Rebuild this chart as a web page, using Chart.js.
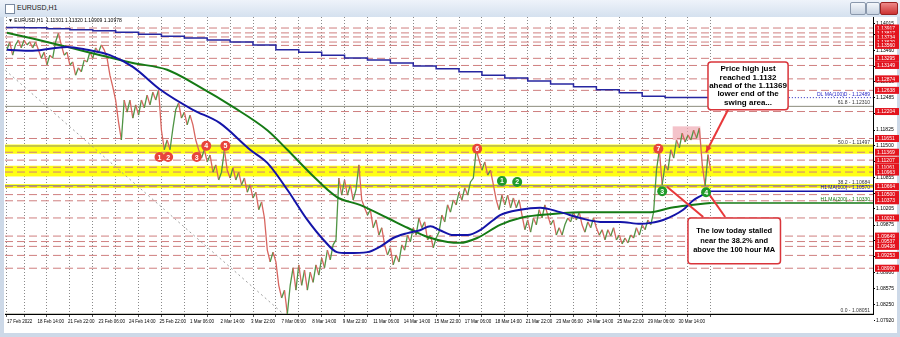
<!DOCTYPE html>
<html><head><meta charset="utf-8">
<script src="https://cdn.jsdelivr.net/npm/chart.js@4.4.0/dist/chart.umd.min.js"></script>
<style>
html,body{margin:0;padding:0;background:#fff;}
#wrap{position:relative;width:900px;height:337px;background:#cdd9e8;overflow:hidden;font-family:"Liberation Sans",Arial,sans-serif;}
#title{position:absolute;left:0;top:0;width:900px;height:17px;background:linear-gradient(#eef3fa,#d5e1ef);}
#icon{position:absolute;left:5px;top:4px;width:8px;height:8px;border:1px solid #7a8aa0;background:#fff;}
#ttext{position:absolute;left:17px;top:4px;font-size:7px;color:#1a1a1a;}
.btn{position:absolute;top:2px;height:11px;border:1px solid #8a98ac;border-radius:2px;background:linear-gradient(#f4f7fb,#c9d4e2);}
#cv{position:absolute;left:0;top:0;}
</style></head>
<body><div id="wrap">
<div id="title"><div id="icon"></div><div id="ttext">EURUSD,H1</div>
<div class="btn" style="left:850px;width:14px"></div>
<div class="btn" style="left:866px;width:12px"></div>
<div class="btn" style="left:880px;width:16px;background:linear-gradient(#e88,#c33);border-color:#922"></div>
</div>
<canvas id="cv" width="900" height="337"></canvas>
</div>
<script>
// ---------------- DATA ----------------
const xLabelBars = [0,32,64,96,128,160,192,224,256,288,320,352,384,416,448,480,512,544,576,608,640,672,704];
const xLabels = ['17 Feb 2022','18 Feb 14:00','21 Feb 22:00','23 Feb 06:00','24 Feb 14:00','25 Feb 22:00','1 Mar 06:00','2 Mar 14:00','3 Mar 22:00','7 Mar 06:00','8 Mar 14:00','9 Mar 22:00','11 Mar 06:00','14 Mar 14:00','15 Mar 22:00','17 Mar 06:00','18 Mar 14:00','21 Mar 22:00','23 Mar 06:00','24 Mar 14:00','25 Mar 22:00','29 Mar 06:00','30 Mar 14:00'];
const dayGridBars = [0,18,42,66,90,114,138,162,186,210,234,258,282,306,330,354,378,402,426,450,474,498,522,546,570,594,618,642,666,690,714,738];
const yTickVals = [1.14015,1.13785,1.13460,1.13135,1.12810,1.12485,1.12155,1.11825,1.11500,1.11180,1.10855,1.10530,1.10205,1.09875,1.09550,1.09225,1.08900,1.08575,1.08250,1.07920];

// EURUSD H1 price path, one reading every 3 bars
const priceBarStep = 3;
const pricePath = [
1.1347,1.1363,1.1336,1.1357,1.1367,1.1351,1.1367,1.1357,1.1363,1.1351,
1.1363,1.1347,1.1330,1.1342,1.1316,1.1336,1.1330,1.1363,1.1381,1.1357,
1.1336,1.1342,1.1316,1.1322,1.1295,1.1310,1.1302,1.1326,1.1322,1.1342,
1.1330,1.1351,1.1342,1.1357,1.1347,1.1330,1.1295,1.1271,1.1244,1.1199,
1.1162,1.1244,1.1219,1.1244,1.1207,1.1234,1.1213,1.1244,1.1228,1.1254,
1.1234,1.1260,1.1244,1.1265,1.1182,1.1142,1.1162,1.1142,1.1186,1.1224,
1.1238,1.1207,1.1219,1.1193,1.1213,1.1193,1.1162,1.1142,1.1125,1.1142,
1.1117,1.1131,1.1096,1.1111,1.1080,1.1096,1.1142,1.1100,1.1084,1.1105,
1.1080,1.1096,1.1070,1.1084,1.1055,1.1070,1.1043,1.1055,1.1019,1.1035,
1.1002,1.0936,1.0912,1.0932,1.0912,1.0864,1.0838,1.0854,1.0805,1.0864,
1.0900,1.0854,1.0906,1.0864,1.0895,1.0854,1.0891,1.0870,1.0906,1.0885,
1.0920,1.0900,1.0936,1.0916,1.0947,1.0957,1.1084,1.1049,1.1080,1.1049,
1.1070,1.1039,1.1060,1.1111,1.1039,1.1023,1.1008,1.1019,1.0982,1.0998,
1.0967,1.0982,1.0947,1.0926,1.0941,1.0906,1.0926,1.0912,1.0947,1.0936,
1.0967,1.0953,1.0982,1.0967,1.1002,1.0982,1.0994,1.0957,1.0967,1.0941,
1.0961,1.0973,1.1008,1.0994,1.1029,1.1014,1.1039,1.1029,1.1055,1.1039,
1.1064,1.1049,1.1076,1.1084,1.1142,1.1121,1.1100,1.1117,1.1090,1.1100,
1.1070,1.1039,1.1019,1.1049,1.1029,1.1049,1.1023,1.1043,1.1023,1.1039,
1.1008,1.0978,1.0998,1.0973,1.1002,1.0988,1.1019,1.1002,1.1029,1.1008,
1.0988,1.0998,1.0967,1.0982,1.0967,1.0988,1.1002,1.0994,1.1014,1.0998,
1.1014,1.0988,1.0973,1.0994,1.0982,1.1002,1.0982,1.0967,1.0978,1.0957,
1.0978,1.0965,1.0982,1.0957,1.0967,1.0949,1.0961,1.0951,1.0967,1.0961,
1.0982,1.0967,1.0988,1.0978,1.0998,1.0988,1.1014,1.1100,1.1142,1.1070,
1.1111,1.1100,1.1142,1.1125,1.1162,1.1146,1.1176,1.1158,1.1172,1.1162,
1.1182,1.1166,1.1186,1.1111,1.1068,1.1132,1.1098];

// 100-hour MA (blue)
const ma100Bars = [0,27,63,84,108,132,161,195,223,255,273,294,315,332,346,357,378,391,405,420,433,444,454,468,483,496,510,517,538,559,580,601,622,643,664,675,688,709,720,738];
const ma100Vals = [1.1347,1.1345,1.1353,1.1347,1.1336,1.1312,1.1265,1.1224,1.1197,1.1142,1.1115,1.1060,1.0998,1.0957,1.0932,1.0930,1.0932,1.0943,1.0961,1.0971,1.0977,1.0985,1.0977,1.0967,1.0967,1.0977,1.0998,1.1008,1.1019,1.1023,1.1014,1.1002,1.0994,1.0994,1.0990,1.0992,1.0998,1.1019,1.1039,1.1057];
// 200-hour MA (green)
const ma200Bars = [0,27,63,98,132,168,202,237,273,294,318,346,370,399,420,441,462,475,493,517,538,559,601,643,675,696,720,738];
const ma200Vals = [1.1382,1.1370,1.1353,1.1336,1.1320,1.1306,1.1271,1.1230,1.1182,1.1142,1.1094,1.1045,1.1029,1.1002,1.0982,1.0963,1.0953,1.0951,1.0961,1.0988,1.1002,1.1008,1.1014,1.1014,1.1014,1.1023,1.1029,1.1033];
// 100-day MA (daily, stepped)
const dailyMaBars = [0,18,42,66,90,114,138,162,186,210,234,258,282,306,330,354,378,402,426,450,474,498,522,546,570,594,618,642,666,690,714,738];
const dailyMaVals = [1.1394,1.1393,1.1392,1.1390,1.1388,1.1386,1.1383,1.1379,1.1375,1.1371,1.1367,1.1363,1.1357,1.1347,1.1342,1.1336,1.1330,1.1326,1.1320,1.1314,1.1308,1.1302,1.1295,1.1289,1.1283,1.1277,1.1271,1.1265,1.1259,1.1252,1.1249,1.1249];
const dailyMaLast = 1.12489;

// Horizontal support / resistance lines
const levelPrices = [1.13917,1.13817,1.13734,1.13629,1.13560,1.13295,1.13149,1.12874,1.12638,1.12204,1.11651,1.11369,1.11207,1.11061,1.10963,1.10664,1.10500,1.10373,1.10021,1.09649,1.09537,1.09438,1.09253,1.08990];
// Fibonacci retracement
const fibLow = 1.08051, fibHigh = 1.14943;
const fibLowBar = 290, fibHighBar = -112;
const fibRatios = [0.0, 0.382, 0.5, 0.618];
// Yellow swing areas [low, high]
const bandLows  = [1.11369, 1.10903, 1.10664];
const bandHighs = [1.11497, 1.11061, 1.10684];
// numbered markers
const markerBars   = [160,169,199,209,229,493,683,519,535,687,733];
const markerPrices = [1.1127,1.1127,1.1127,1.1150,1.1150,1.1144,1.1144,1.1078,1.1076,1.1057,1.1055];
const markerText   = ['1','2','3','4','5','6','7','1','2','3','4'];
const markerIsRed  = [1,1,1,1,1,1,1,0,0,0,0];

// ---------------- CHART ----------------
const X_MIN = -2, X_MAX = 908, Y_MIN = 1.08051, Y_MAX = 1.14143;
const labelMap = new Map(xLabelBars.map((b,i)=>[b,xLabels[i]]));
const gridSet = new Set(dayGridBars);
const xTickBars = Array.from(new Set([...xLabelBars, ...dayGridBars])).sort((a,b)=>a-b);
const lastBar = (pricePath.length-1)*priceBarStep;

const UP = '#4f9444', DOWN = '#d8655f';
const datasets = [];
datasets.push({label:'MA100', data: ma100Bars.map((b,i)=>({x:b,y:ma100Vals[i]})), borderColor:'#1414a8', borderWidth:2, pointRadius:0, tension:0.4, cubicInterpolationMode:'monotone', order:1});
datasets.push({label:'MA200', data: ma200Bars.map((b,i)=>({x:b,y:ma200Vals[i]})), borderColor:'#157a15', borderWidth:2, pointRadius:0, tension:0.4, cubicInterpolationMode:'monotone', order:1});
datasets.push({label:'MA100ext', data:[{x:lastBar,y:ma100Vals[ma100Vals.length-1]},{x:X_MAX,y:ma100Vals[ma100Vals.length-1]}], borderColor:'#1414a8', borderWidth:1.5, pointRadius:0, order:2});
datasets.push({label:'MA200ext', data:[{x:lastBar,y:ma200Vals[ma200Vals.length-1]},{x:X_MAX,y:ma200Vals[ma200Vals.length-1]}], borderColor:'#157a15', borderWidth:1.5, pointRadius:0, order:2});
datasets.push({label:'Price', data: pricePath.map((v,i)=>({x:i*priceBarStep,y:v})), borderWidth:1.3, pointRadius:0, order:3,
  borderColor: UP, segment:{borderColor: c => c.p1.parsed.y >= c.p0.parsed.y ? UP : DOWN}});
datasets.push({label:'DailyMA', data: dailyMaBars.map((b,i)=>({x:b,y:dailyMaVals[i]})), borderColor:'#2626a0', borderWidth:1.5, pointRadius:0, stepped:'after', order:4});
datasets.push({label:'DailyMAext', data:[{x:lastBar,y:dailyMaLast},{x:X_MAX,y:dailyMaLast}], borderColor:'#2626c0', borderWidth:1, borderDash:[1,2], pointRadius:0, order:4});
fibRatios.forEach(r=>{
  const v = fibLow + r*(fibHigh-fibLow);
  datasets.push({label:'fib'+r, data:[{x:X_MIN,y:v},{x:X_MAX,y:v}], borderColor:'#8c8c7c', borderWidth:1, pointRadius:0, order:6});
});
datasets.push({label:'fibDiag', data:[{x:fibHighBar,y:fibHigh},{x:fibLowBar,y:fibLow}], borderColor:'#a0a0a0', borderWidth:1, borderDash:[2,3], pointRadius:0, order:7});
levelPrices.forEach(v=>{
  datasets.push({label:'lvl', data:[{x:X_MIN,y:v},{x:X_MAX,y:v}], borderColor:'#cf7f7f', borderWidth:1, borderDash:[8,4], pointRadius:0, order:8});
});

const FONT = '"Liberation Sans", Arial, sans-serif';

const annot = {
  id:'annot',
  beforeDraw(chart){
    const c = chart.ctx;
    c.save(); c.fillStyle='#ffffff'; c.fillRect(4,17,893,316); c.restore();
  },
  beforeDatasetsDraw(chart){
    const {ctx:c, chartArea:a, scales:{x,y}} = chart;
    c.save();
    c.beginPath(); c.rect(a.left,a.top,a.right-a.left,a.bottom-a.top); c.clip();
    bandLows.forEach((lo,i)=>{
      const y1 = y.getPixelForValue(bandHighs[i]) - 1.5, y2 = y.getPixelForValue(lo) + 1.5;
      c.fillStyle = '#ffff14';
      c.fillRect(a.left, y1, a.right-a.left, y2-y1);
    });
    // pink high zone
    c.fillStyle = 'rgba(240,170,180,0.7)';
    const px1 = x.getPixelForValue(698), px2 = x.getPixelForValue(727);
    const py1 = y.getPixelForValue(1.1190), py2 = y.getPixelForValue(1.1162);
    c.fillRect(px1, py1, px2-px1, py2-py1);
    c.restore();
  },
  afterDatasetsDraw(chart){
    const {ctx:c, chartArea:a, scales:{x,y}} = chart;
    const X = v=>x.getPixelForValue(v), Y = v=>y.getPixelForValue(v);
    c.save();
    c.beginPath(); c.rect(a.left,a.top,a.right-a.left,a.bottom-a.top); c.clip();
    c.font = '5px '+FONT; c.textAlign='right'; c.textBaseline='bottom';
    const rx = a.right - 3;
    c.fillStyle = '#2b2bc8'; c.fillText('DL MA(100)D - ' + dailyMaLast.toFixed(5), rx, Y(dailyMaLast)-1);
    c.fillStyle = '#333';
    [[0.618,'61.8'],[0.5,'50.0'],[0.382,'38.2'],[0,'0.0']].forEach(([r,t])=>{
      const v = fibLow + r*(fibHigh-fibLow);
      c.fillText(t+' - '+v.toFixed(5), rx, Y(v)-1);
    });
    c.fillStyle = '#1414a8'; c.fillText('H1 MA(100) - ' + ma100Vals[ma100Vals.length-1].toFixed(5), rx, Y(ma100Vals[ma100Vals.length-1])-1);
    c.fillStyle = '#157a15'; c.fillText('H1 MA(200) - ' + ma200Vals[ma200Vals.length-1].toFixed(5), rx, Y(ma200Vals[ma200Vals.length-1])-1);

    c.strokeStyle = '#e8383a'; c.lineWidth = 2; c.fillStyle = '#e8383a';
    const line = (b1,p1,b2,p2,arrow)=>{
      const x1=X(b1),y1=Y(p1),x2=X(b2),y2=Y(p2);
      c.beginPath(); c.moveTo(x1,y1); c.lineTo(x2,y2); c.stroke();
      if(arrow){
        const ang=Math.atan2(y2-y1,x2-x1), L=7;
        c.beginPath(); c.moveTo(x2,y2);
        c.lineTo(x2-L*Math.cos(ang-0.45), y2-L*Math.sin(ang-0.45));
        c.lineTo(x2-L*Math.cos(ang+0.45), y2-L*Math.sin(ang+0.45));
        c.closePath(); c.fill();
      }
    };
    line(756,1.1224,733,1.1137,true);
    line(730,1.1004,692,1.1066,false);
    line(753,1.1004,735,1.1054,false);

    markerBars.forEach((b,i)=>{
      const cx=X(b), cy=Y(markerPrices[i]);
      c.beginPath(); c.arc(cx,cy,5,0,Math.PI*2);
      c.fillStyle = markerIsRed[i] ? '#e8453c' : '#1f9a2a'; c.fill();
      c.fillStyle='#fff'; c.font='bold 7px '+FONT; c.textAlign='center'; c.textBaseline='middle';
      c.fillText(markerText[i], cx, cy+0.5);
    });

    const box = (b1,p1,b2,p2,lines,fs,lh)=>{
      const x1=X(b1),y1=Y(p1),x2=X(b2),y2=Y(p2);
      c.beginPath(); c.roundRect(x1,y1,x2-x1,y2-y1,3);
      c.fillStyle='#fff'; c.fill(); c.strokeStyle='#d9343a'; c.lineWidth=1.5; c.stroke();
      c.fillStyle='#000'; c.font='bold '+fs+'px '+FONT; c.textAlign='center'; c.textBaseline='middle';
      const cx=(x1+x2)/2, cy=(y1+y2)/2, n=lines.length;
      lines.forEach((t,i)=>c.fillText(t, cx, cy+(i-(n-1)/2)*lh));
    };
    box(735,1.1322,819,1.1224,['Price high just','reached 1.1132','ahead of the 1.11369','lower end of the','swing area...'],8,8.3);
    box(714,1.1002,811,1.0908,['The low today stalled','near the 38.2% and','above the 100 hour MA'],7.5,9.5);

    c.fillStyle='#000'; c.font='5px '+FONT; c.textAlign='left'; c.textBaseline='middle';
    c.fillText('\u25BC EURUSD,H1  1.11301 1.11320 1.10909 1.10978', a.left+3, a.top+4);
    c.restore();
  },
  afterDraw(chart){
    const {ctx:c, chartArea:a, scales:{y}} = chart;
    c.save();
    c.font = '5px '+FONT; c.textAlign='left'; c.textBaseline='middle';
    levelPrices.forEach(v=>{
      const py = y.getPixelForValue(v);
      c.fillStyle = '#e3141e'; c.fillRect(a.right+2, py-3.5, 24, 7);
      c.fillStyle = '#fff'; c.fillText(v.toFixed(5), a.right+4, py+0.3);
    });
    c.restore();
  }
};

new Chart(document.getElementById('cv'), {
  type:'line',
  data:{datasets},
  options:{
    responsive:false, animation:false, devicePixelRatio:1,
    layout:{padding:{left:5,top:17,right:0,bottom:4}},
    plugins:{legend:{display:false}, tooltip:{enabled:false}},
    elements:{line:{borderCapStyle:'butt'}},
    scales:{
      x:{type:'linear', min:X_MIN, max:X_MAX,
        afterBuildTicks: s=>{ s.ticks = xTickBars.map(v=>({value:v})); },
        afterFit: s=>{ s.height = 19; },
        ticks:{autoSkip:false, maxRotation:0, minRotation:0, align:'start', padding:2, color:'#000',
          font:{size:4.5, family:FONT}, callback:(v)=>labelMap.has(v)?labelMap.get(v):''},
        grid:{color: c => (c.tick && gridSet.has(c.tick.value)) ? '#8a8a8a' : 'rgba(0,0,0,0)',
          tickColor: c => (c.tick && gridSet.has(c.tick.value)) ? '#555' : 'rgba(0,0,0,0)', tickLength:3, lineWidth:1},
        border:{display:true, color:'#000', dash:[1,2]}
      },
      y:{position:'right', min:Y_MIN, max:Y_MAX,
        afterBuildTicks: s=>{ s.ticks = yTickVals.map(v=>({value:v})); },
        afterFit: s=>{ s.width = 27; },
        ticks:{autoSkip:false, padding:1, color:'#000', font:{size:5, family:FONT}, callback:v=>Number(v).toFixed(5)},
        grid:{drawOnChartArea:false, drawTicks:true, tickLength:2, color:'#000'},
        border:{display:true, color:'#000'}
      }
    }
  },
  plugins:[annot]
});
</script>
</body></html>
